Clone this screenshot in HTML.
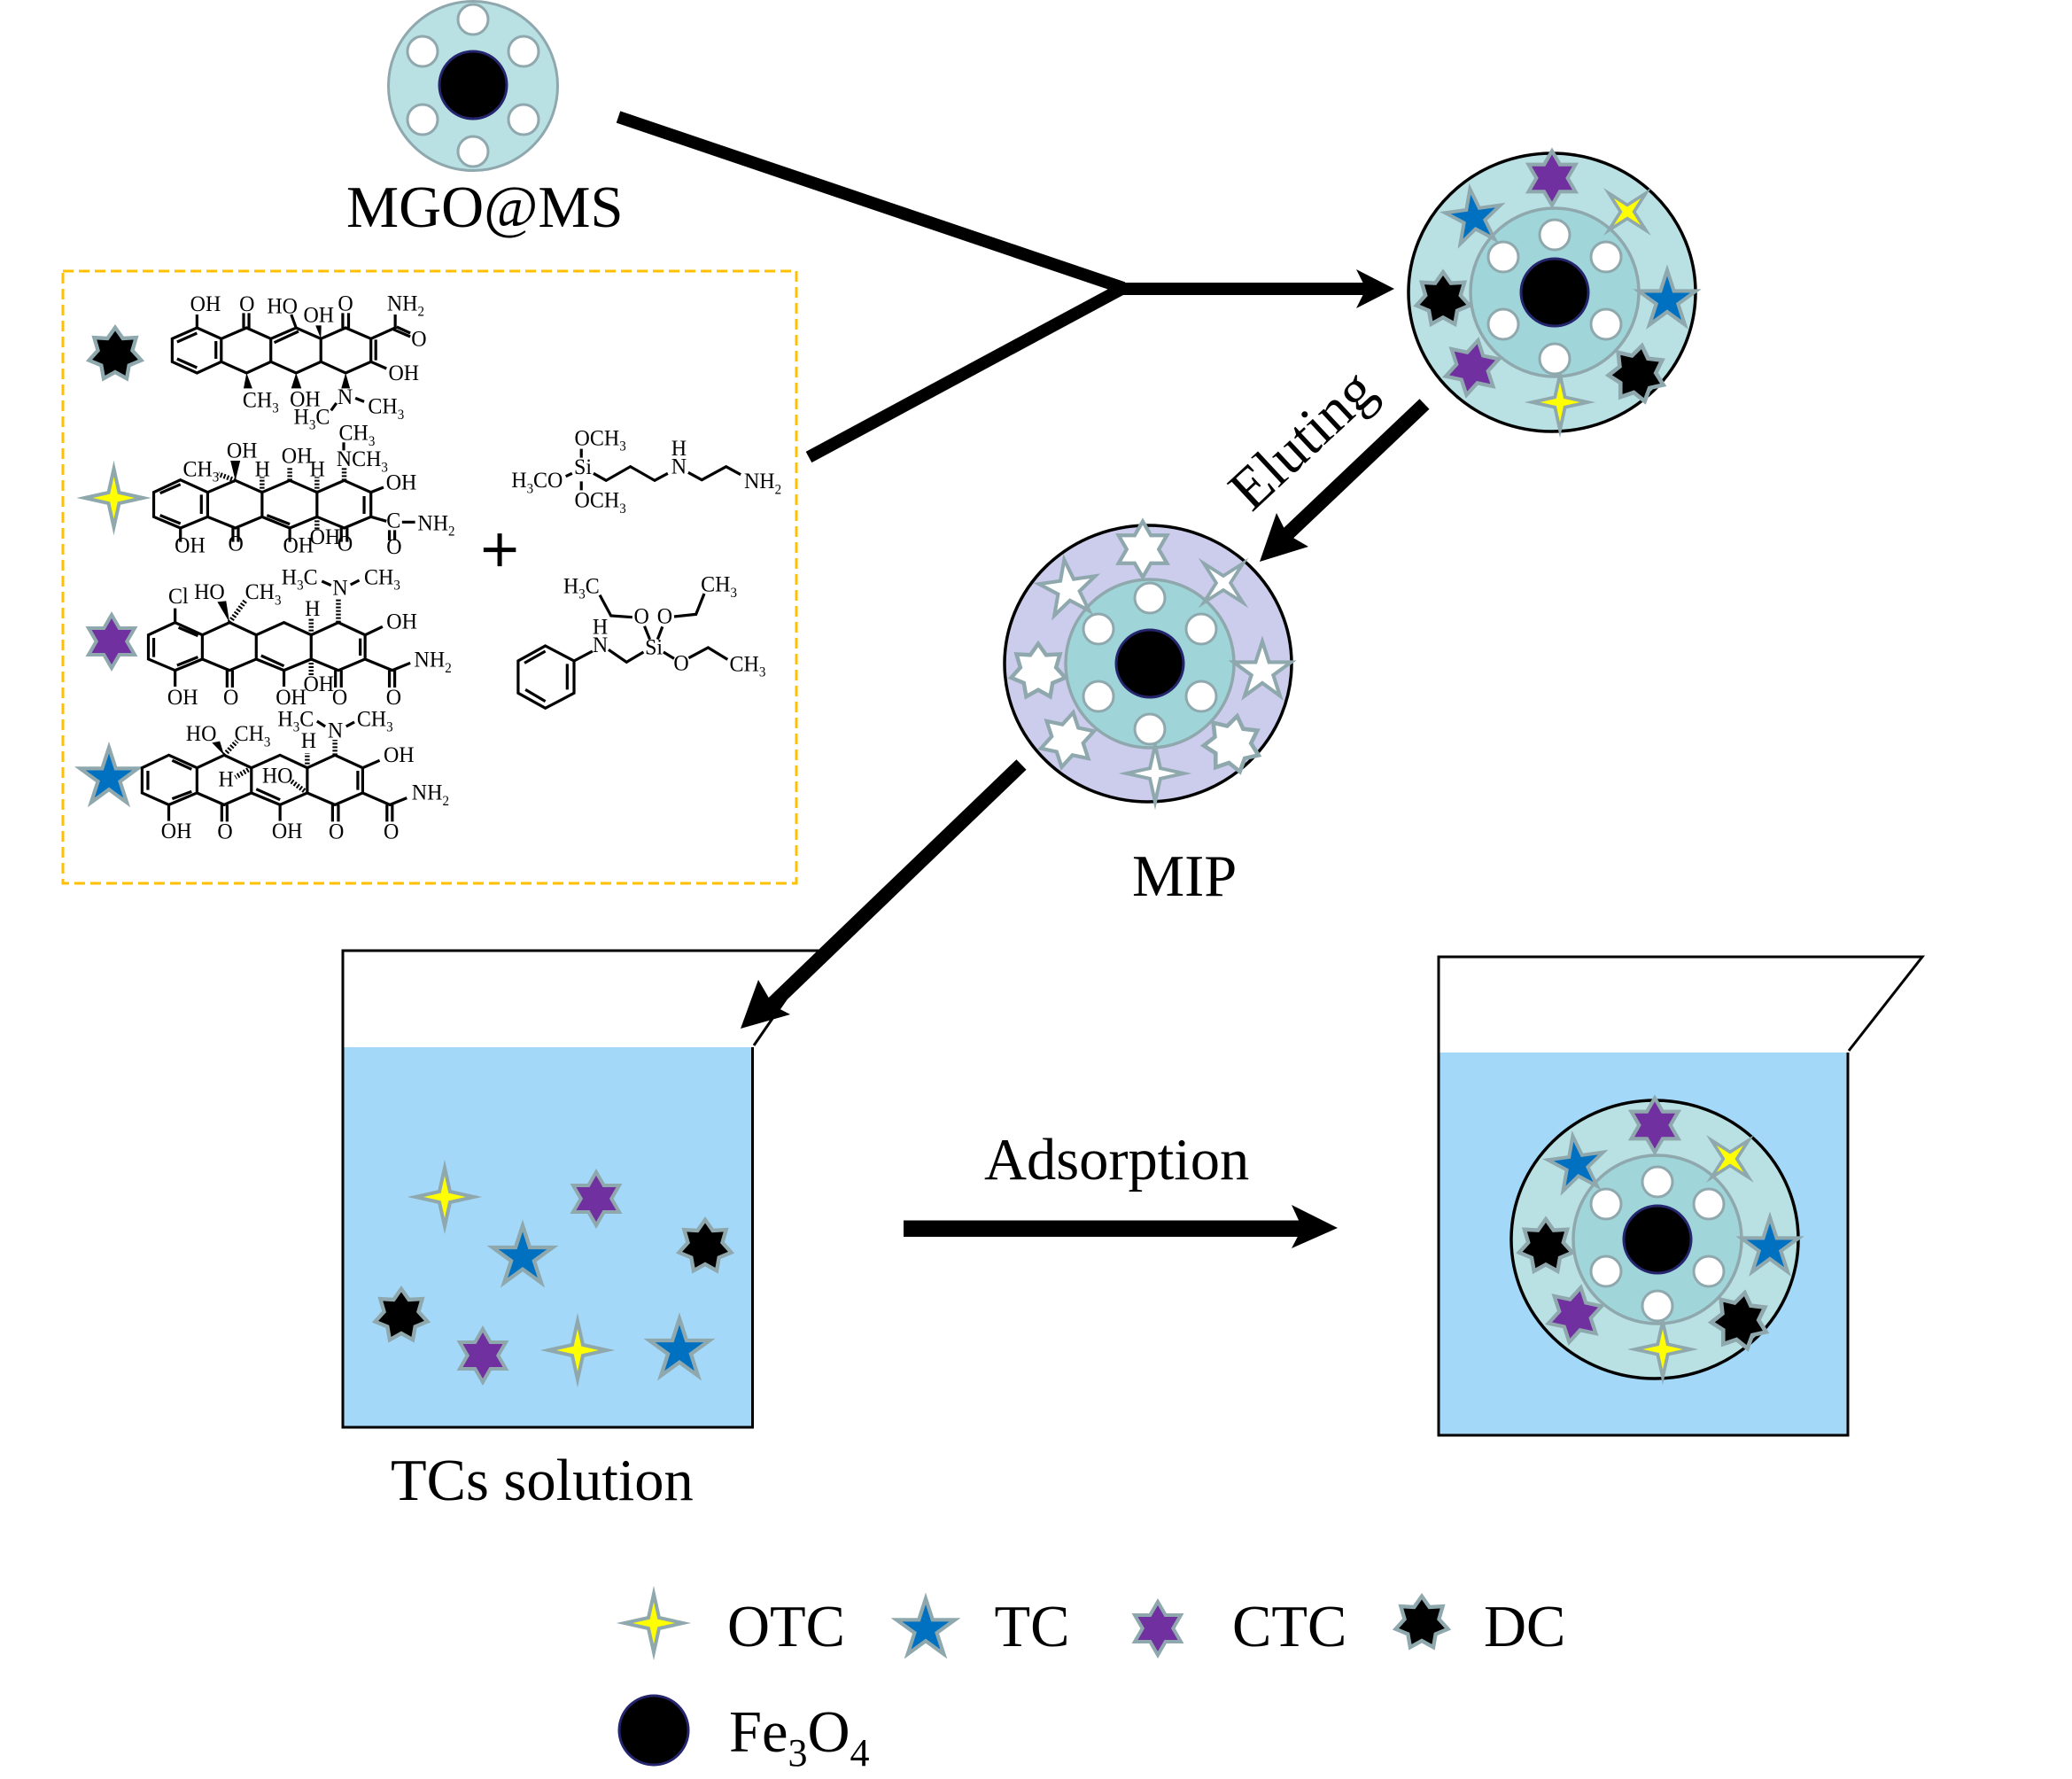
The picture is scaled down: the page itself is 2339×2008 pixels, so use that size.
<!DOCTYPE html>
<html><head><meta charset="utf-8"><style>
html,body{margin:0;padding:0;background:#fff}
svg{display:block}
text{font-family:"Liberation Serif",serif;fill:#000}
.l{font-size:66.5px}
.m text{font-size:24px}
.m .s,.s{font-size:15px}
.b{fill:none;stroke:#000;stroke-width:3.2;vector-effect:non-scaling-stroke}
.h{fill:none;stroke:#000;stroke-width:5.5;stroke-dasharray:2 2;vector-effect:non-scaling-stroke}
.st{stroke:#8fa8ad;stroke-width:4;stroke-miterlimit:20;stroke-linejoin:miter}
.wst{stroke:#8fa8ad;stroke-width:4;stroke-miterlimit:20;fill:#fff}
</style></head><body>
<svg xmlns="http://www.w3.org/2000/svg" width="2339" height="2008" viewBox="0 0 2339 2008">
<defs>
<polygon id="s5" points="0,-33 7.4,-10.2 31.4,-10.2 12,3.9 19.4,26.7 0,12.6 -19.4,26.7 -12,3.9 -31.4,-10.2 -7.4,-10.2"/>
<polygon id="s6" points="0,-30 8.7,-15 26,-15 17.3,0 26,15 8.7,15 0,30 -8.7,15 -26,15 -17.3,0 -26,-15 -8.7,-15"/>
<polygon id="s7" points="0,-28 8,-16.7 21.9,-17.5 18,-4.1 27.3,6.2 14.5,11.5 12.1,25.2 0,18.5 -12.1,25.2 -14.5,11.5 -27.3,6.2 -18,-4.1 -21.9,-17.5 -8,-16.7"/>
<polygon id="s4" points="0,-33 6,-6 33,0 6,6 0,33 -6,6 -33,0 -6,-6"/>
<g id="pores" fill="#fff" stroke="#8fa8ad" stroke-width="3">
<circle cx="0" cy="-65" r="17"/><circle cx="-58" cy="-40" r="17"/><circle cx="58" cy="-40" r="17"/><circle cx="-58" cy="36" r="17"/><circle cx="58" cy="36" r="17"/><circle cx="0" cy="75" r="17"/>
</g>
<g id="ring">
<ellipse cx="-3" cy="0" rx="162" ry="157" fill="#b9e0e3" stroke="#000" stroke-width="3.5"/>
<circle r="95" fill="#a0d5da" stroke="#8fa8ad" stroke-width="3.5"/>
<g class="st">
<use href="#s6" fill="#7030a0" transform="translate(-3 -129) scale(1.02)"/>
<use href="#s4" fill="#ffff00" transform="translate(82 -91) rotate(45) scale(.9)"/>
<use href="#s5" fill="#0070c0" transform="translate(-91 -84) rotate(-8)"/>
<use href="#s7" fill="#000" transform="translate(-126 8) scale(1.1)"/>
<use href="#s5" fill="#0070c0" transform="translate(127 9) scale(1.03)"/>
<use href="#s7" fill="#000" transform="translate(93 92) rotate(10) scale(1.15)"/>
<use href="#s6" fill="#7030a0" transform="translate(-93 85) rotate(12) scale(1.05)"/>
<use href="#s4" fill="#ffff00" transform="translate(6 124) scale(.95)"/>
</g>
<use href="#pores"/>
<circle r="38" fill="#000" stroke="#25256e" stroke-width="3"/>
</g>
</defs>

<!-- MGO@MS -->
<g transform="translate(534 96)">
<circle cy="1" r="95.5" fill="#b9e0e3" stroke="#8fa8ad" stroke-width="3"/>
<g fill="#fff" stroke="#8fa8ad" stroke-width="3">
<circle cy="-74" r="17"/><circle cx="-57" cy="-38" r="17"/><circle cx="57" cy="-38" r="17"/><circle cx="-57" cy="39" r="17"/><circle cx="57" cy="39" r="17"/><circle cy="75" r="17"/>
</g>
<circle r="38" fill="#000" stroke="#25256e" stroke-width="3"/>
</g>
<text class="l" x="391" y="256">MGO@MS</text>

<!-- main arrows -->
<line x1="698" y1="132" x2="1268" y2="325" stroke="#000" stroke-width="14"/>
<line x1="913" y1="516" x2="1268" y2="325" stroke="#000" stroke-width="14"/>
<rect x="1258" y="319" width="288" height="14" fill="#000"/>
<polygon points="1574,326 1531,304 1542,326 1531,348" fill="#000"/>

<!-- dashed box -->
<rect x="71" y="306" width="828" height="691" fill="none" stroke="#ffc000" stroke-width="3" stroke-dasharray="12 6"/>
<g class="st">
<use href="#s7" fill="#000" transform="translate(130 400) scale(1.08)"/>
<use href="#s4" fill="#ffff00" transform="translate(128.5 562)"/>
<use href="#s6" fill="#7030a0" transform="translate(126 724)"/>
<use href="#s5" fill="#0070c0" transform="translate(123 878) scale(1.04)"/>
</g>
<text x="564" y="646" style="font-size:76px" stroke="#000" stroke-width="1.2" text-anchor="middle">+</text>

<!-- molecules top half -->
<g class="m" transform="translate(60 290) scale(.5485 .33333)">
<path class="b" d="M296,240L346,277L346,355L296,393L245,355L245,277ZM255,288L296,258M335,285L335,345M255,345L296,375M346,277L398,240L448,277L448,355L398,393L346,355M448,277L500,240L551,277L551,355L500,393L448,355M551,277L602,240L654,277L654,355L602,393L551,355M455,290L505,252M664,280L664,350M296,240L296,195M392,240L392,190M403,240L403,190M500,240L490,195M596,240L596,190M608,240L608,190M654,277L704,240L704,195M700,245L735,270M707,237L735,258M654,355L686,378M572,520L583,495M622,478L640,490"/>
<path d="M551,277L540,232L552,232ZM398,393L392,445L410,445ZM500,393L490,445L511,445ZM602,393L593,445L611,445Z" fill="#000"/>
<text transform="matrix(1.8233 0 0 3.15 282 183)">OH</text>
<text transform="matrix(1.8233 0 0 3.15 383 183)">O</text>
<text transform="matrix(1.8233 0 0 3.15 440 191)">HO</text>
<text transform="matrix(1.8233 0 0 3.15 515 220)">OH</text>
<text transform="matrix(1.8233 0 0 3.15 586 181)">O</text>
<text transform="matrix(1.8233 0 0 3.15 687 181)">NH<tspan class="s" dy="6">2</tspan></text>
<text transform="matrix(1.8233 0 0 3.15 737 302)">O</text>
<text transform="matrix(1.8233 0 0 3.15 690 417)">OH</text>
<text transform="matrix(1.8233 0 0 3.15 390 508)">CH<tspan class="s" dy="6">3</tspan></text>
<text transform="matrix(1.8233 0 0 3.15 487 506)">OH</text>
<text transform="matrix(1.8233 0 0 3.15 585 498)">N</text>
<text transform="matrix(1.8233 0 0 3.15 495 565)">H<tspan class="s" dy="6">3</tspan><tspan dy="-6">C</tspan></text>
<text transform="matrix(1.8233 0 0 3.15 648 530)">CH<tspan class="s" dy="6">3</tspan></text>

<path class="b" d="M262,755L318,797L318,880L262,918L207,880L207,797ZM220,800L262,770M305,805L305,870M220,875L262,903M318,797L375,757L430,797L430,880L375,918L318,880M430,797L487,757L543,797L543,880L487,918L430,880M543,797L599,757L654,797L654,880L599,918L543,880M440,875L487,905M640,810L640,870M262,918L262,965M370,918L370,965M381,918L381,965M487,918L487,965M593,918L593,965M605,918L605,965M654,880L686,895M718,898L745,898M692,925L692,960M703,925L703,960M654,797L680,780M598,628L598,655"/>
<path d="M375,757L365,690L385,690Z" fill="#000"/>
<path class="h" d="M375,757L340,735M430,797L430,745M487,757L487,710M543,797L543,745M599,757L599,710M543,880L543,925"/>
<text transform="matrix(1.8233 0 0 3.15 357 680)">OH</text>
<text transform="matrix(1.8233 0 0 3.15 470 697)">OH</text>
<text transform="matrix(1.8233 0 0 3.15 267 742)">CH<tspan class="s" dy="6">3</tspan></text>
<text transform="matrix(1.8233 0 0 3.15 415 742)">H</text>
<text transform="matrix(1.8233 0 0 3.15 528 742)">H</text>
<text transform="matrix(1.8233 0 0 3.15 583 708)">NCH<tspan class="s" dy="6">3</tspan></text>
<text transform="matrix(1.8233 0 0 3.15 588 620)">CH<tspan class="s" dy="6">3</tspan></text>
<text transform="matrix(1.8233 0 0 3.15 685 787)">OH</text>
<text transform="matrix(1.8233 0 0 3.15 686 917)">C</text>
<text transform="matrix(1.8233 0 0 3.15 750 925)">NH<tspan class="s" dy="6">2</tspan></text>
<text transform="matrix(1.8233 0 0 3.15 686 1005)">O</text>
<text transform="matrix(1.8233 0 0 3.15 250 1000)">OH</text>
<text transform="matrix(1.8233 0 0 3.15 360 995)">O</text>
<text transform="matrix(1.8233 0 0 3.15 473 1000)">OH</text>
<text transform="matrix(1.8233 0 0 3.15 528 972)">OH</text>
<text transform="matrix(1.8233 0 0 3.15 585 995)">O</text>

<path class="b" d="M1087,650L1087,680M1055,743L1068,733M1087,760L1087,790M1112,733L1138,757L1188,710L1238,757L1265,733M1307,730L1335,755L1385,710L1415,737"/>
<text transform="matrix(1.8233 0 0 3.15 1073 637)">OCH<tspan class="s" dy="6">3</tspan></text>
<text transform="matrix(1.8233 0 0 3.15 943 780)">H<tspan class="s" dy="6">3</tspan><tspan dy="-6">CO</tspan></text>
<text transform="matrix(1.8233 0 0 3.15 1072 735)">Si</text>
<text transform="matrix(1.8233 0 0 3.15 1272 672)">H</text>
<text transform="matrix(1.8233 0 0 3.15 1272 733)">N</text>
<text transform="matrix(1.8233 0 0 3.15 1422 783)">NH<tspan class="s" dy="6">2</tspan></text>
<text transform="matrix(1.8233 0 0 3.15 1073 848)">OCH<tspan class="s" dy="6">3</tspan></text>
</g>

<!-- molecules bottom half -->
<g class="m" transform="translate(60 620) scale(.5485 .33333)">
<path class="b" d="M251,248L307,290L307,372L251,410L196,372L196,290ZM258,265L298,293M207,300L207,365M255,393L298,365M307,290L363,248L418,290L418,372L363,410L307,372M418,290L475,248L531,290L531,372L475,410L418,372M531,290L587,248L642,290L642,372L587,410L531,372M428,360L475,395M632,302L632,360M251,248L251,200M251,410L251,465M358,410L358,468M369,410L369,468M475,410L475,465M581,410L581,468M593,410L593,468M642,372L698,410L735,385M692,410L692,468M703,410L703,468M642,290L678,262M553,108L572,122M612,120L630,105"/>
<path d="M363,248L338,178L356,175Z" fill="#000"/>
<path class="h" d="M363,248L395,175M531,290L531,230M587,248L587,165M531,372L531,430"/>
<text transform="matrix(1.8233 0 0 3.15 237 183)">Cl</text>
<text transform="matrix(1.8233 0 0 3.15 290 168)">HO</text>
<text transform="matrix(1.8233 0 0 3.15 395 168)">CH<tspan class="s" dy="6">3</tspan></text>
<text transform="matrix(1.8233 0 0 3.15 470 118)">H<tspan class="s" dy="6">3</tspan><tspan dy="-6">C</tspan></text>
<text transform="matrix(1.8233 0 0 3.15 575 155)">N</text>
<text transform="matrix(1.8233 0 0 3.15 640 118)">CH<tspan class="s" dy="6">3</tspan></text>
<text transform="matrix(1.8233 0 0 3.15 518 225)">H</text>
<text transform="matrix(1.8233 0 0 3.15 686 268)">OH</text>
<text transform="matrix(1.8233 0 0 3.15 743 398)">NH<tspan class="s" dy="6">2</tspan></text>
<text transform="matrix(1.8233 0 0 3.15 235 525)">OH</text>
<text transform="matrix(1.8233 0 0 3.15 350 525)">O</text>
<text transform="matrix(1.8233 0 0 3.15 458 525)">OH</text>
<text transform="matrix(1.8233 0 0 3.15 515 480)">OH</text>
<text transform="matrix(1.8233 0 0 3.15 574 525)">O</text>
<text transform="matrix(1.8233 0 0 3.15 685 525)">O</text>

<path class="b" d="M1125,155L1148,225L1192,230M1340,150L1323,220L1278,228M1217,260L1228,305M1254,262L1244,305M1143,340L1180,382L1215,348M1256,348L1278,370M1308,368L1348,333L1388,373M1013,327L1072,378L1072,487L1013,538L957,487L957,378ZM1072,378L1110,345M970,385L1013,345M1058,388L1058,475M972,475L1013,515"/>
<text transform="matrix(1.8233 0 0 3.15 1050 148)">H<tspan class="s" dy="6">3</tspan><tspan dy="-6">C</tspan></text>
<text transform="matrix(1.8233 0 0 3.15 1333 143)">CH<tspan class="s" dy="6">3</tspan></text>
<text transform="matrix(1.8233 0 0 3.15 1195 250)">O</text>
<text transform="matrix(1.8233 0 0 3.15 1243 250)">O</text>
<text transform="matrix(1.8233 0 0 3.15 1110 287)">H</text>
<text transform="matrix(1.8233 0 0 3.15 1110 348)">N</text>
<text transform="matrix(1.8233 0 0 3.15 1218 355)">Si</text>
<text transform="matrix(1.8233 0 0 3.15 1277 410)">O</text>
<text transform="matrix(1.8233 0 0 3.15 1392 412)">CH<tspan class="s" dy="6">3</tspan></text>

<path class="b" d="M238,697L296,740L296,825L238,865L183,825L183,740ZM245,715L285,745M195,750L195,815M245,845L285,820M296,740L352,697L408,740L408,825L352,865L296,825M408,740L467,697L523,740L523,825L467,865L408,825M523,740L580,697L637,740L637,825L580,865L523,825M418,812L467,848M627,750L627,815M238,865L238,920M347,865L347,922M358,865L358,922M467,865L467,920M575,865L575,922M587,865L587,922M637,825L693,865L728,842M687,865L687,922M698,865L698,922M637,740L672,715M543,582L560,600M603,600L620,585"/>
<path d="M352,697L327,655L343,650Z" fill="#000"/>
<path class="h" d="M352,697L378,650M408,740L375,772M523,825L490,785M523,740L523,690M580,697L580,645"/>
<text transform="matrix(1.8233 0 0 3.15 273 648)">HO</text>
<text transform="matrix(1.8233 0 0 3.15 373 648)">CH<tspan class="s" dy="6">3</tspan></text>
<text transform="matrix(1.8233 0 0 3.15 462 598)">H<tspan class="s" dy="6">3</tspan><tspan dy="-6">C</tspan></text>
<text transform="matrix(1.8233 0 0 3.15 565 637)">N</text>
<text transform="matrix(1.8233 0 0 3.15 625 598)">CH<tspan class="s" dy="6">3</tspan></text>
<text transform="matrix(1.8233 0 0 3.15 510 672)">H</text>
<text transform="matrix(1.8233 0 0 3.15 680 720)">OH</text>
<text transform="matrix(1.8233 0 0 3.15 340 802)">H</text>
<text transform="matrix(1.8233 0 0 3.15 430 790)">HO</text>
<text transform="matrix(1.8233 0 0 3.15 738 848)">NH<tspan class="s" dy="6">2</tspan></text>
<text transform="matrix(1.8233 0 0 3.15 222 978)">OH</text>
<text transform="matrix(1.8233 0 0 3.15 338 980)">O</text>
<text transform="matrix(1.8233 0 0 3.15 450 978)">OH</text>
<text transform="matrix(1.8233 0 0 3.15 567 980)">O</text>
<text transform="matrix(1.8233 0 0 3.15 680 980)">O</text>
</g>

<!-- ring 1 -->
<use href="#ring" transform="translate(1755 330)"/>

<!-- Eluting -->
<text class="l" transform="translate(1413 579) rotate(-43)">Eluting</text>
<line x1="1608" y1="456" x2="1450" y2="606" stroke="#000" stroke-width="16"/>
<polygon points="1422,634 1441,579 1453,603 1477,617" fill="#000"/>

<!-- MIP -->
<g transform="translate(1298 749)">
<ellipse cx="-2" cy="0" rx="162" ry="156" fill="#ccccec" stroke="#000" stroke-width="3.5"/>
<circle r="95" fill="#9fd5d8" stroke="#8fa8ad" stroke-width="3.5"/>
<g class="wst">
<use href="#s6" transform="translate(-8 -129) scale(1.05)"/>
<use href="#s4" transform="translate(83 -91) rotate(45) scale(.95)"/>
<use href="#s5" transform="translate(-92 -84) rotate(-8) scale(1.02)"/>
<use href="#s7" transform="translate(-126 9) scale(1.12)"/>
<use href="#s5" transform="translate(127 9) scale(1.03)"/>
<use href="#s7" transform="translate(93 91) rotate(10) scale(1.15)"/>
<use href="#s6" transform="translate(-93 86) rotate(12) scale(1.05)"/>
<use href="#s4" transform="translate(6 124) scale(.98)"/>
</g>
<g fill="#fff" stroke="#8fa8ad" stroke-width="3">
<circle cy="-74" r="17"/><circle cx="-58" cy="-39" r="17"/><circle cx="58" cy="-39" r="17"/><circle cx="-58" cy="37" r="17"/><circle cx="58" cy="37" r="17"/><circle cy="74" r="17"/>
</g>
<circle r="38" fill="#000" stroke="#25256e" stroke-width="3"/>
</g>
<text class="l" x="1278" y="1011">MIP</text>

<!-- beaker 1 -->
<rect x="388" y="1182" width="461" height="428" fill="#a4d8f8"/>
<path d="M849.5,1182V1611H387V1073H925L851,1180" fill="none" stroke="#000" stroke-width="3"/>
<line x1="1153" y1="863" x2="870" y2="1135" stroke="#000" stroke-width="16"/>
<polygon points="836,1161 856,1106 873,1135 892,1145" fill="#000"/>
<g class="st">
<use href="#s4" fill="#ffff00" transform="translate(502 1351)"/>
<use href="#s6" fill="#7030a0" transform="translate(673 1353)"/>
<use href="#s5" fill="#0070c0" transform="translate(590 1419) scale(1.08)"/>
<use href="#s7" fill="#000" transform="translate(796 1407) scale(1.08)"/>
<use href="#s7" fill="#000" transform="translate(453 1485) scale(1.08)"/>
<use href="#s6" fill="#7030a0" transform="translate(545 1530)"/>
<use href="#s4" fill="#ffff00" transform="translate(652 1524)"/>
<use href="#s5" fill="#0070c0" transform="translate(767 1524) scale(1.08)"/>
</g>
<text class="l" x="441" y="1693">TCs solution</text>

<!-- adsorption -->
<text class="l" x="1111" y="1331">Adsorption</text>
<rect x="1020" y="1377.5" width="450" height="18.5" fill="#000"/>
<polygon points="1510,1386 1458,1360 1470,1386 1458,1409" fill="#000"/>

<!-- beaker 2 -->
<rect x="1625" y="1188" width="461" height="431" fill="#a4d8f8"/>
<path d="M2086,1188V1620H1624V1080H2170L2087,1186" fill="none" stroke="#000" stroke-width="3"/>
<use href="#ring" transform="translate(1871 1399)"/>

<!-- legend -->
<g class="st">
<use href="#s4" fill="#ffff00" transform="translate(738 1832)"/>
<use href="#s5" fill="#0070c0" transform="translate(1045 1839) scale(1.05)"/>
<use href="#s6" fill="#7030a0" transform="translate(1307 1838)"/>
<use href="#s7" fill="#000" transform="translate(1605 1832) scale(1.08)"/>
</g>
<circle cx="738" cy="1953" r="39" fill="#000" stroke="#25256e" stroke-width="3"/>
<text class="l" x="821" y="1858">OTC</text>
<text class="l" x="1122.5" y="1858">TC</text>
<text class="l" x="1391" y="1858">CTC</text>
<text class="l" x="1675" y="1858">DC</text>
<text class="l" x="823" y="1977">Fe<tspan style="font-size:44px" dy="16">3</tspan><tspan dy="-16">O</tspan><tspan style="font-size:44px" dy="16">4</tspan></text>
</svg>
</body></html>
